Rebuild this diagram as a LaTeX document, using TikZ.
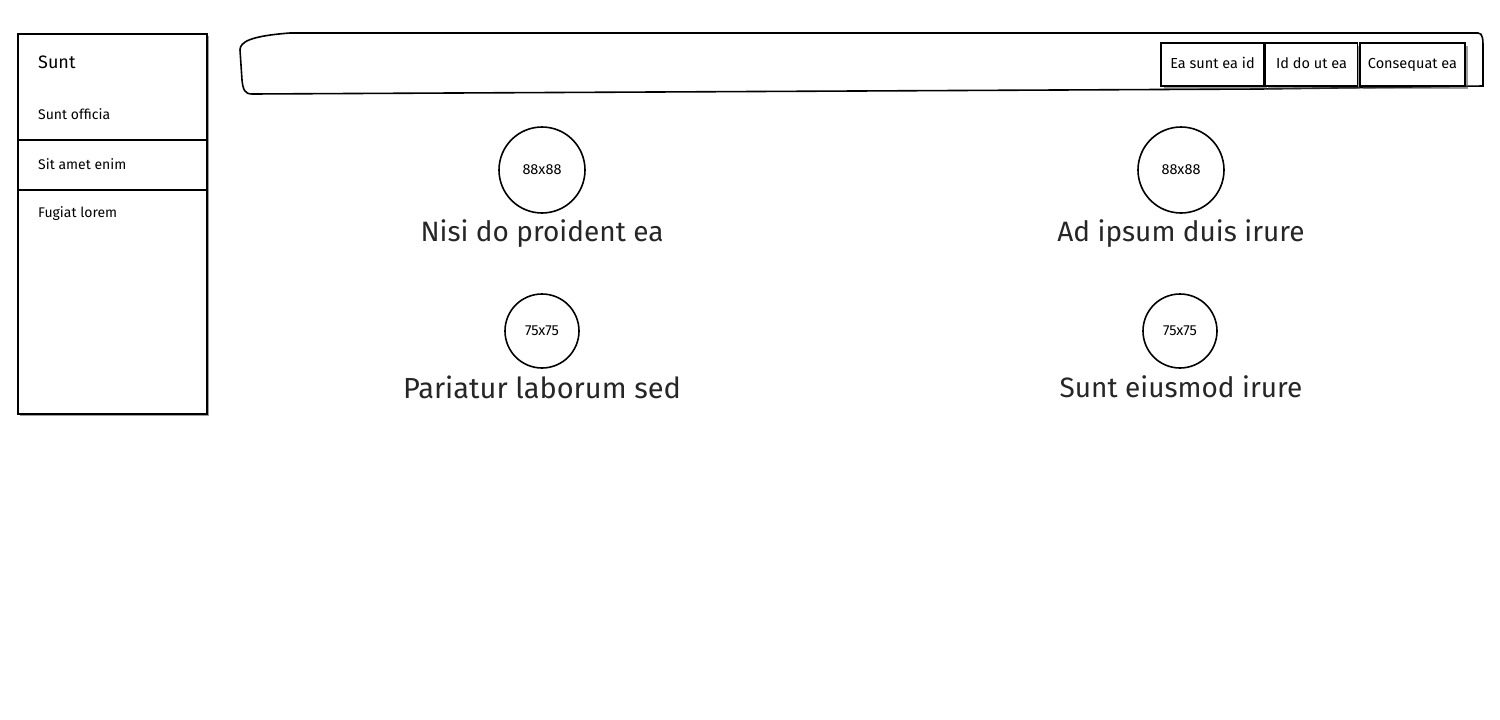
\documentclass[tikz,border=0pt]{standalone}
\usepackage{fontspec}
\setmainfont{Fira Sans}
\usetikzlibrary{shadows}
\tikzset{
  every picture/.style={x=1pt,y=-1pt},
  frame/.style={draw=black,line width=1.8pt,fill=white},
  shade/.style={drop shadow={shadow xshift=2.5pt,shadow yshift=-2.5pt,opacity=0.55,fill=black!70}},
  menuitem/.style={anchor=west,font=\fontsize{14}{16}\selectfont,inner sep=0pt},
  btn/.style={frame,shade,minimum height=43pt,inner sep=0pt,text height=10pt,text depth=3pt,font=\fontsize{14.5}{16}\selectfont},
  pic/.style={draw=black,line width=1.6pt,circle,inner sep=0pt,font=\fontsize{14.5}{16}\selectfont},
  title/.style={font=\fontsize{28}{32}\selectfont,text=black!85,inner sep=0pt}
}
\begin{document}
\begin{tikzpicture}
\useasboundingbox (0,0) rectangle (1500,720);
% sidebar
\node[frame,shade,minimum width=189pt,minimum height=380pt,anchor=north west,inner sep=0pt] (side) at (17,33) {};
\draw[line width=1.8pt] (side.west |- 0,140) coordinate (d1a) -- (side.east |- 0,140) coordinate (d1b);
\draw[line width=1.8pt] (side.west |- 0,190) coordinate (d2a) -- (side.east |- 0,190) coordinate (d2b);
\node[menuitem,font=\fontsize{18}{20}\selectfont] (m0) at (38,62) {Sunt};
\node[menuitem] (m1) at (38,114) {Sunt officia};
\node[menuitem] (m2) at (38,164) {Sit amet enim};
\node[menuitem] (m3) at (38,214) {Fugiat lorem};
% header bar
\draw[line width=1.6pt] (290,33) -- (1478,33) .. controls (1483,33) and (1483,40) .. (1483,48)
  -- (1483,86) -- (1260,89) -- (252,94) .. controls (245,94) and (243,90) .. (242,80)
  -- (240,50) .. controls (240,42) and (250,36) .. (290,33) -- cycle;
\node[btn,minimum width=103pt] (b1) at (1212.5,64.5) {Ea sunt ea id};
\node[btn,minimum width=92pt] (b2) at (1311.5,64.5) {Id do ut ea};
\node[btn,minimum width=105pt] (b3) at (1412.5,64.5) {Consequat ea};
% content
\node[pic,minimum size=86pt] (c1) at (542,170) {88x88};
\node[title] (t1) at (542,234) {Nisi do proident ea};
\node[pic,minimum size=74pt] (c2) at (542,331) {75x75};
\node[title,font=\fontsize{29}{32}\selectfont] (t2) at (542,387) {Pariatur laborum sed};
\node[pic,minimum size=86pt] (c3) at (1181,170) {88x88};
\node[title] (t3) at (1181,234) {Ad ipsum duis irure};
\node[pic,minimum size=74pt] (c4) at (1180,331) {75x75};
\node[title] (t4) at (1181,387) {Sunt eiusmod irure};
\end{tikzpicture}
\end{document}
